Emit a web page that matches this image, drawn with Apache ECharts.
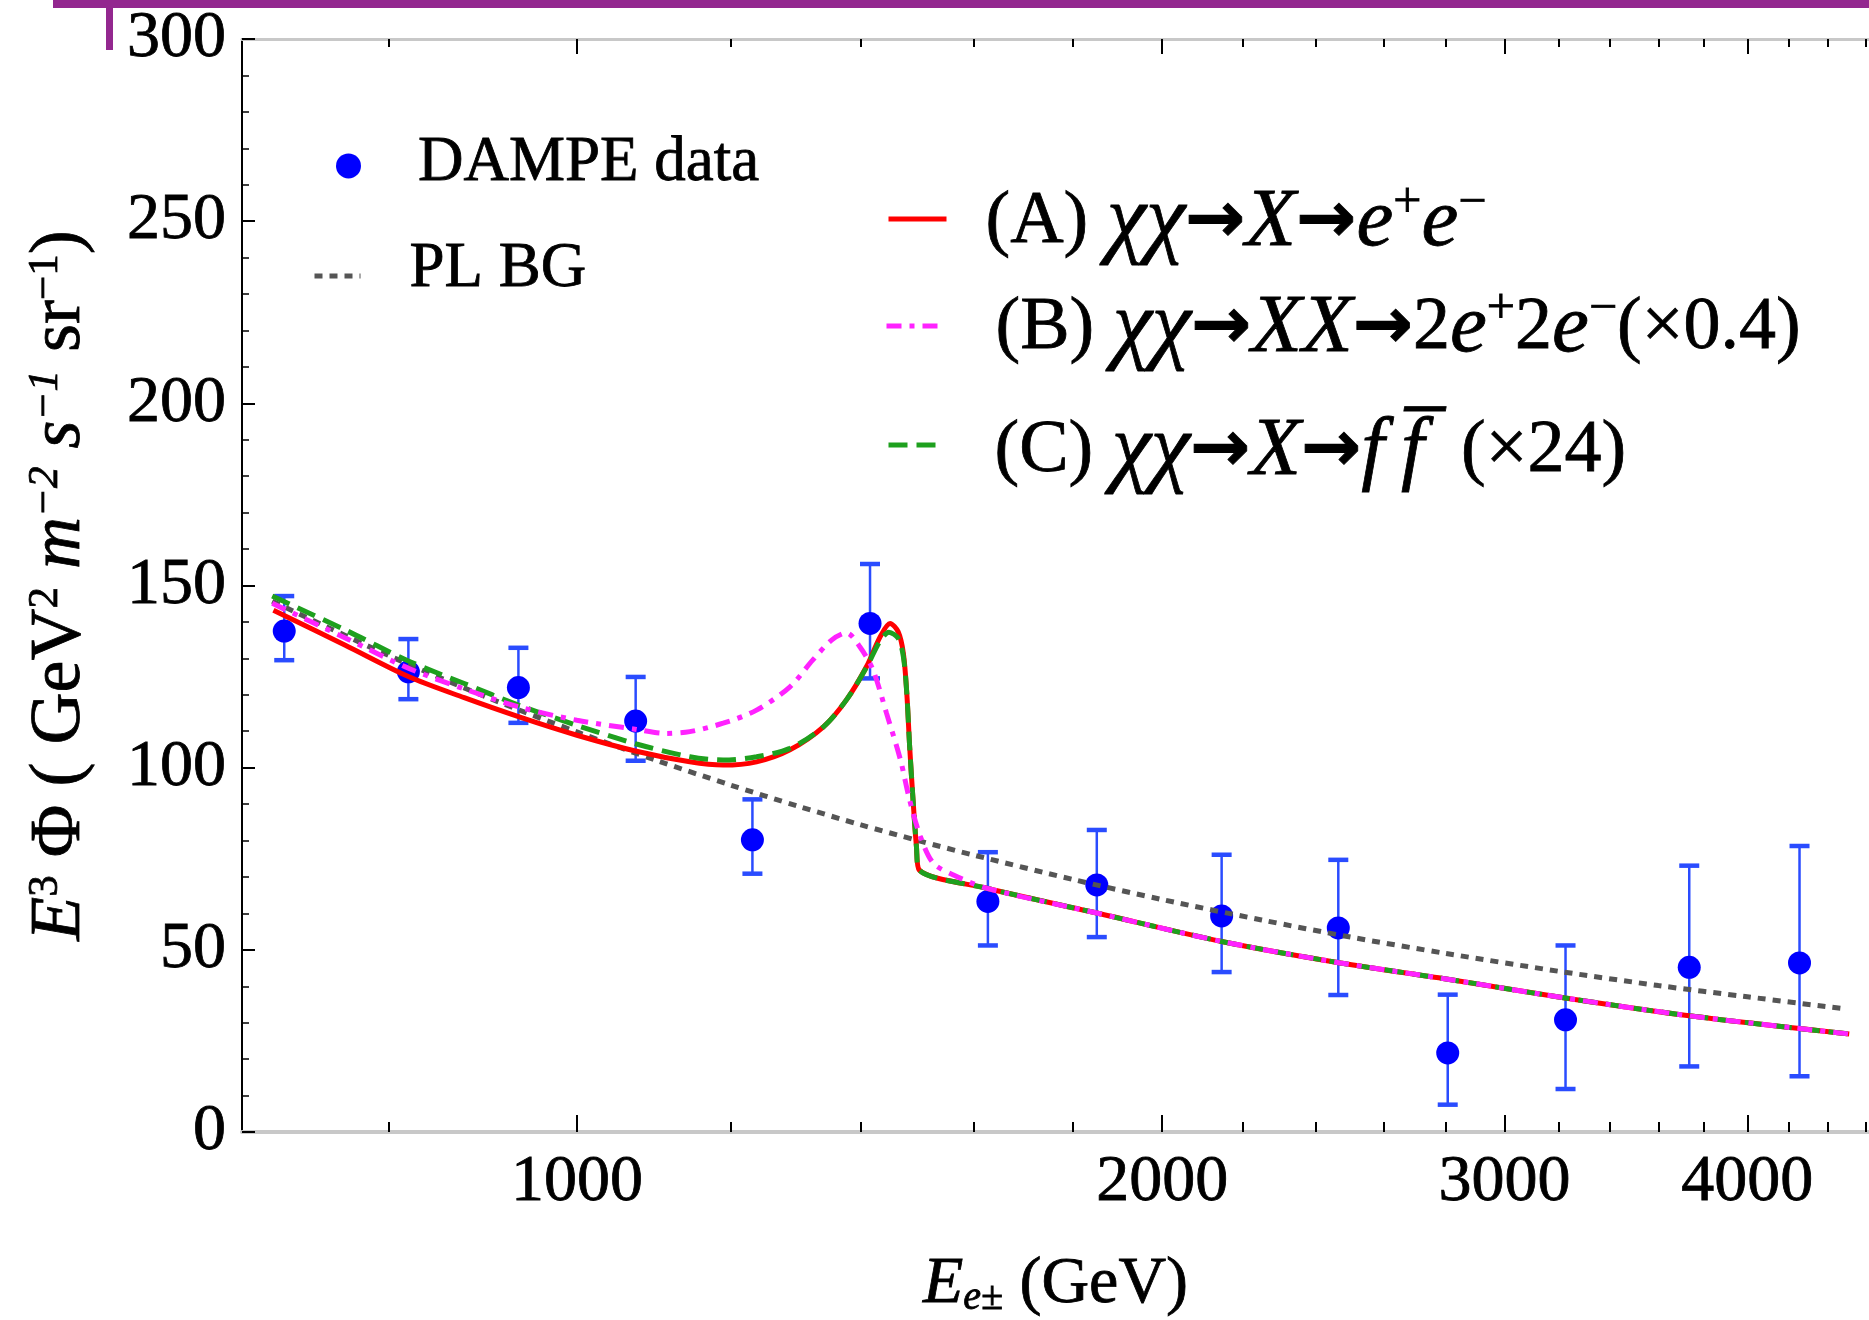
<!DOCTYPE html>
<html>
<head>
<meta charset="utf-8">
<script src="https://cdn.jsdelivr.net/npm/echarts@6/dist/echarts.min.js"></script>
<style>
    html, body { margin: 0; padding: 0; background: #fff; }
    #chart { width: 1869px; height: 1320px; }
</style>
</head>
<body>
<div id="chart"></div>
<script>
// DAMPE points (energy in GeV, E^3 flux, error bar ends)
const dampeE    = [707, 819, 933, 1072, 1231, 1415, 1627, 1851, 2146, 2464, 2805, 3225, 3734, 4255];
const dampeFlux = [137.5, 126.3, 122.0, 112.8, 80.2, 139.6, 63.3, 67.8, 59.3, 56.0, 21.7, 30.8, 45.2, 46.4];
const dampeLow  = [129.5, 118.8, 112.3, 101.9, 70.9, 124.5, 51.2, 53.5, 43.9, 37.6, 7.5, 11.8, 18.0, 15.3];
const dampeHigh = [147.1, 135.3, 132.9, 124.9, 91.3, 155.9, 76.8, 82.9, 76.1, 74.7, 37.7, 51.2, 73.1, 78.5];

// power law background
const bgE    = [697, 800, 900, 1000, 1100, 1200, 1300, 1400, 1500, 1600, 1800, 2000, 2250, 2500, 2800, 3200, 3600, 4000, 4490];
const bgFlux = [145.7, 130.8, 119.2, 109.8, 101.9, 95.2, 89.4, 84.3, 79.9, 76.0, 69.3, 63.8, 58.2, 53.5, 49.0, 44.1, 40.2, 37.1, 33.8];

// (A) chi chi -> X -> e+ e-
const aE    = [698, 760, 819, 875, 933, 1000, 1073, 1143, 1189, 1237, 1287, 1339, 1376, 1409, 1432, 1449, 1463, 1472, 1478, 1483, 1489, 1495, 1500, 1625, 1851, 2146, 2470, 2800, 3223, 3734, 4513];
const aFlux = [143.2, 133.6, 125.0, 119.2, 114.0, 108.9, 104.5, 101.6, 100.7, 101.6, 104.9, 111.2, 118.6, 127.7, 135.9, 139.6, 137.3, 131.4, 120.4, 105.8, 91.1, 78.3, 71.9, 66.9, 60.1, 52.3, 46.4, 42.0, 36.8, 31.9, 26.9];

// (B) chi chi -> X X -> 2e+ 2e- (x0.4)
const bE    = [697, 760, 819, 875, 933, 1000, 1073, 1110, 1143, 1189, 1237, 1287, 1322, 1352, 1376, 1398, 1420, 1443, 1467, 1483, 1502, 1525, 1561, 1625, 1851, 2146, 2470, 2800, 3223, 3734, 4513];
const bFlux = [145.1, 135.6, 127.3, 121.6, 116.7, 113.0, 110.5, 109.4, 109.9, 112.2, 115.8, 122.2, 129.5, 135.0, 137.0, 133.2, 126.8, 114.9, 102.1, 91.1, 81.1, 73.8, 70.6, 66.9, 60.1, 52.3, 46.4, 42.0, 36.8, 31.9, 26.9];

// (C) chi chi -> X -> f fbar (x24)
const cE    = [697, 760, 819, 875, 933, 1000, 1073, 1143, 1189, 1237, 1287, 1339, 1376, 1409, 1432, 1447, 1463, 1472, 1478, 1483, 1489, 1495, 1500, 1625, 1851, 2146, 2470, 2800, 3223, 3734, 4513];
const cFlux = [147.1, 137.8, 129.3, 123.1, 117.2, 111.6, 106.5, 103.0, 102.1, 103.0, 105.3, 111.2, 118.6, 127.5, 134.8, 137.2, 135.5, 130.5, 120.4, 105.8, 91.1, 78.3, 71.9, 66.9, 60.1, 52.3, 46.4, 42.0, 36.8, 31.9, 26.9];

// axis ticks
const xMin = 672.5, xMax = 4620;
const xMajorTicks = [1000, 2000, 3000, 4000];
const xMinorTicks = [800, 1200, 1400, 1600, 1800, 2200, 2400, 2600, 2800, 3200, 3400, 3600, 3800, 4200, 4400, 4600];
const yMin = 0, yMax = 300, yStep = 50;

const FONT = 'Liberation Serif';
const lg = v => Math.log10(v);
const pairs = (xs, ys) => xs.map((x, i) => [lg(x), ys[i]]);

function rich(size, stroke, wide) {
    const base = { fontFamily: FONT, color: '#000', textBorderColor: '#000', textBorderWidth: stroke };
    const k = wide ? 1.12 : 1;
    const small = Math.round(size * (wide ? 0.68 : 0.6));
    return {
        t: Object.assign({}, base, { fontSize: size }),
        i: Object.assign({}, base, { fontSize: Math.round(size * k), fontStyle: 'italic' }),
        chi: Object.assign({}, base, { fontSize: Math.round(size * (wide ? 1.2 : 1)), fontStyle: 'italic' }),
        ar: Object.assign({}, base, { fontSize: Math.round(size * 0.97), fontFamily: 'DejaVu Sans', fontWeight: 'bold' }),
        sup: Object.assign({}, base, { fontSize: small, verticalAlign: 'top', lineHeight: Math.round(size * 0.45) }),
        isup: Object.assign({}, base, { fontSize: small, fontStyle: 'italic', verticalAlign: 'top', lineHeight: Math.round(size * 0.45) }),
        sub: Object.assign({}, base, { fontSize: small, fontStyle: 'italic', verticalAlign: 'bottom', lineHeight: Math.round(size * 0.4) })
    };
}

const legendText = {
    'DAMPE data': '{t|DAMPE data}',
    'PL BG': '{t|PL BG}',
    'A': '{t|(A) }{chi|χχ}{ar|→}{i|X}{ar|→}{i|e}{sup|+}{i|e}{sup|−}',
    'B': '{t|(B) }{chi|χχ}{ar|→}{i|XX}{ar|→}{t|2}{i|e}{sup|+}{t|2}{i|e}{sup|−}{t|(×0.4)}',
    'C': '{t|(C) }{chi|χχ}{ar|→}{i|X}{ar|→}{i|f\u2009f\u0305}{t|  (×24)}'
};

function legendAt(name, left, top, w, h, size, pad, isLine) {
    const l = {
        data: [name], left: left, top: top, padding: 0, orient: 'vertical',
        itemWidth: w, itemHeight: h, selectedMode: false,
        formatter: n => legendText[n],
        textStyle: { fontFamily: FONT, fontSize: size, color: '#000', padding: pad, rich: rich(size, 0.8, isLine && size > 70) }
    };
    if (isLine) {
        l.itemStyle = { opacity: 0 };
        l.lineStyle = { width: 5 };
    }
    return l;
}

function xAxisAt(pos, ticks, len, lineOn, labelOn) {
    return {
        type: 'value', position: pos, min: lg(xMin), max: lg(xMax),
        axisLine: { show: lineOn, onZero: false, lineStyle: { color: '#c8c8c8', width: pos === 'bottom' ? 4 : 3 } },
        axisTick: { show: true, inside: true, length: len, customValues: ticks.map(lg), lineStyle: { color: '#000', width: 2 } },
        axisLabel: {
            show: labelOn, customValues: xMajorTicks.map(lg), margin: 18,
            fontFamily: FONT, fontSize: 66, color: '#000', textBorderColor: '#000', textBorderWidth: 0.8,
            formatter: v => String(Math.round(Math.pow(10, v)))
        },
        splitLine: { show: false }
    };
}

const chart = echarts.init(document.getElementById('chart'));
const xMain = xAxisAt('bottom', xMajorTicks, 17, true, true);
xMain.name = '{i|E}{sub|e±}{t| (GeV)}';
xMain.nameLocation = 'middle';
xMain.nameGap = 120;
xMain.nameTextStyle = { fontFamily: FONT, fontSize: 66, color: '#000', rich: rich(66, 0.8, false) };

const option = {
    backgroundColor: '#fff',
    animation: false,
    grid: { left: 242, right: 0, top: 39, bottom: 188, containLabel: false, outerBoundsMode: 'none' },
    xAxis: [
        xMain,
        xAxisAt('bottom', xMinorTicks, 10, false, false),
        xAxisAt('top', xMajorTicks, 15, true, false),
        xAxisAt('top', xMinorTicks, 8, false, false)
    ],
    yAxis: {
        type: 'value', min: yMin, max: yMax, interval: yStep,
        axisLine: { show: true, lineStyle: { color: '#000', width: 2 } },
        axisTick: { show: true, inside: true, length: 13, lineStyle: { color: '#000', width: 2 } },
        minorTick: { show: true, splitNumber: 5, length: 7, lineStyle: { color: '#000', width: 1.5 } },
        splitLine: { show: false },
        axisLabel: { fontFamily: FONT, fontSize: 66, color: '#000', margin: 16, textBorderColor: '#000', textBorderWidth: 0.8 },
        name: '{i|E}{sup|3}{t| Φ ( GeV}{sup|2}{t| }{i|m}{isup|−2}{t| }{i|s}{isup|−1}{t| sr}{sup|−1}{t|)}',
        nameLocation: 'middle', nameRotate: 90, nameGap: 146,
        nameTextStyle: { fontFamily: FONT, fontSize: 72, color: '#000', rich: rich(72, 0.8, false) }
    },
    legend: [
        legendAt('DAMPE data', 336, 132, 25, 25, 63, [0, 0, 4, 52], false),
        legendAt('PL BG', 312, 238, 46, 6, 63, [0, 0, 12, 44], true),
        legendAt('A', 886, 178, 58, 6, 74, [8, 0, 0, 34], true),
        legendAt('B', 884, 284, 58, 6, 74, [6, 0, 0, 46], true),
        legendAt('C', 886, 407, 50, 6, 74, [14, 0, 0, 51], true)
    ],
    graphic: [
        { type: 'rect', shape: { x: 53, y: 0, width: 1816, height: 8 }, style: { fill: '#93278f' }, z: 100 },
        { type: 'rect', shape: { x: 106, y: 0, width: 7, height: 50 }, style: { fill: '#93278f' }, z: 100 }
    ],
    series: [
        {
            name: 'errors', type: 'custom', xAxisIndex: 0, z: 2,
            data: dampeE.map((e, i) => [lg(e), dampeLow[i], dampeHigh[i]]),
            encode: { x: 0, y: [1, 2] },
            renderItem: function (params, api) {
                const lo = api.coord([api.value(0), api.value(1)]);
                const hi = api.coord([api.value(0), api.value(2)]);
                const hw = 10;
                const c = '#2a4cff';
                return {
                    type: 'group',
                    children: [
                        { type: 'line', shape: { x1: lo[0], y1: lo[1], x2: hi[0], y2: hi[1] }, style: { stroke: c, lineWidth: 2.5 } },
                        { type: 'line', shape: { x1: lo[0] - hw, y1: lo[1], x2: lo[0] + hw, y2: lo[1] }, style: { stroke: c, lineWidth: 4.5 } },
                        { type: 'line', shape: { x1: hi[0] - hw, y1: hi[1], x2: hi[0] + hw, y2: hi[1] }, style: { stroke: c, lineWidth: 4.5 } }
                    ]
                };
            }
        },
        {
            name: 'DAMPE data', type: 'scatter', xAxisIndex: 0, z: 3,
            symbol: 'circle', symbolSize: 23,
            itemStyle: { color: '#0000ff', opacity: 1 },
            data: pairs(dampeE, dampeFlux)
        },
        {
            name: 'PL BG', type: 'line', xAxisIndex: 0, z: 4, symbol: 'none', smooth: 0.3,
            lineStyle: { color: '#555555', width: 5, type: [8, 7] },
            itemStyle: { color: '#555555' },
            data: pairs(bgE, bgFlux)
        },
        {
            name: 'A', type: 'line', xAxisIndex: 0, z: 5, symbol: 'none', smooth: 0.3,
            lineStyle: { color: '#ff0000', width: 5 },
            itemStyle: { color: '#ff0000' },
            data: pairs(aE, aFlux)
        },
        {
            name: 'C', type: 'line', xAxisIndex: 0, z: 6, symbol: 'none', smooth: 0.3,
            lineStyle: { color: '#1ea01e', width: 5, type: [19, 9] },
            itemStyle: { color: '#1ea01e' },
            data: pairs(cE, cFlux)
        },
        {
            name: 'B', type: 'line', xAxisIndex: 0, z: 7, symbol: 'none', smooth: 0.3,
            lineStyle: { color: '#ff22ff', width: 5, type: [15, 8, 5, 8] },
            itemStyle: { color: '#ff22ff' },
            data: pairs(bE, bFlux)
        }
    ]
};
chart.setOption(option);
</script>
</body>
</html>
